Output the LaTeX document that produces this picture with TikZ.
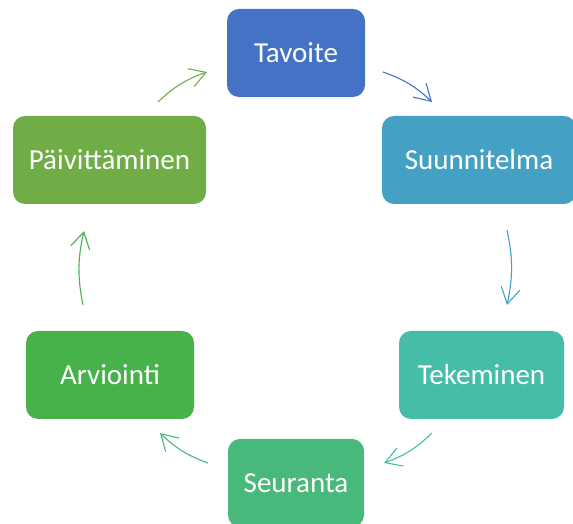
\documentclass[tikz,border=0pt]{standalone}
\usepackage{fontspec}
\setmainfont{Carlito}
\usetikzlibrary{arrows.meta}
\definecolor{cT}{HTML}{4472C4}
\definecolor{cS}{HTML}{45A1C4}
\definecolor{cK}{HTML}{46BDA8}
\definecolor{cR}{HTML}{48B97A}
\definecolor{cA}{HTML}{47B24A}
\definecolor{cP}{HTML}{70AD47}
\tikzset{
  stage/.style={rectangle, rounded corners=12pt, inner sep=0pt, text=white,
    font=\fontsize{29}{35}\selectfont, text height=18.5pt, text depth=0pt,
    minimum height=88pt},
  flow/.style={line width=1.1pt, -{Straight Barb[length=16pt,width=19pt,line width=1.1pt]}, bend left=12}
}
\begin{document}
\begin{tikzpicture}[x=1pt,y=1pt]
\useasboundingbox (0,0) rectangle (573,524);
\node[stage, fill=cT, minimum width=138pt] (tav) at (296,471) {Tavoite};
\node[stage, fill=cS, minimum width=194pt] (suu) at (479,364) {Suunnitelma};
\node[stage, fill=cK, minimum width=165pt] (tek) at (481.5,149) {Tekeminen};
\node[stage, fill=cR, minimum width=136pt] (seu) at (296,41) {Seuranta};
\node[stage, fill=cA, minimum width=168pt] (arv) at (110,149) {Arviointi};
\node[stage, fill=cP, minimum width=193pt] (pai) at (109.5,364) {Päivittäminen};
\coordinate (p1a) at (158,422); \coordinate (p1b) at (207,452);
\coordinate (p2a) at (383,452); \coordinate (p2b) at (432,422);
\coordinate (p3a) at (507,294); \coordinate (p3b) at (507,219);
\coordinate (p4a) at (432,91);  \coordinate (p4b) at (384,61);
\coordinate (p5a) at (208,61);  \coordinate (p5b) at (160,91);
\coordinate (p6a) at (83,219);  \coordinate (p6b) at (84,293);
\draw[flow, cP] (p1a) to (p1b);
\draw[flow, cT] (p2a) to (p2b);
\draw[flow, cS] (p3a) to (p3b);
\draw[flow, cK] (p4a) to (p4b);
\draw[flow, cR] (p5a) to (p5b);
\draw[flow, cA] (p6a) to (p6b);
\end{tikzpicture}
\end{document}
